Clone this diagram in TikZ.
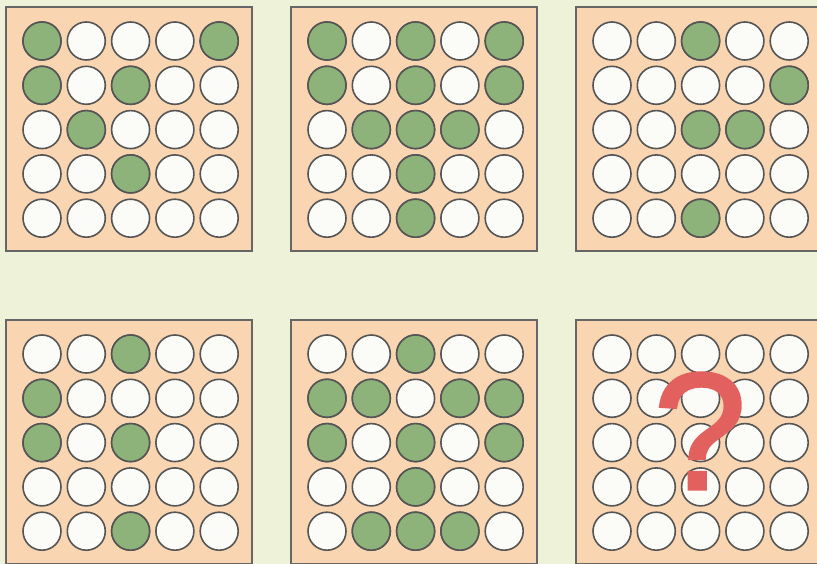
\documentclass[tikz,border=0pt]{standalone}
\usepackage{fontspec}
\setmainfont{Liberation Sans}
\newfontfamily\askfont[FakeBold=2]{Liberation Sans}
\usepackage{tikz}

\definecolor{bgcol}{HTML}{EDF2D9}
\definecolor{boxcol}{HTML}{F9D5B1}
\definecolor{greencol}{HTML}{8DB37A}
\definecolor{dotcol}{HTML}{FBFBF7}
\definecolor{rimcol}{HTML}{555555}
\definecolor{askcol}{HTML}{E2605E}

\tikzset{
  panel/.style={fill=boxcol, draw=rimcol!90, line width=1.4pt},
  dot/.style={fill=dotcol, draw=rimcol, line width=1.6pt},
  greendot/.style={fill=greencol, draw=rimcol, line width=1.6pt}
}

\begin{document}
\begin{tikzpicture}[x=1pt, y=-1pt]
  \useasboundingbox (0, 0) rectangle (817, 564);
  \clip (0, 0) rectangle (817, 564);
  \fill[bgcol] (0, 0) rectangle (817, 564);
  % six panels of 5x5 dots
  \foreach \p in {1,...,6} {
    \pgfmathsetmacro\px{6+285*mod(\p-1,3)}
    \pgfmathsetmacro\py{7+313*floor((\p-1)/3)}
    \draw[panel] (\px, \py) rectangle ++(246, 244);
    \foreach \r in {1,...,5} {
      \foreach \c in {1,...,5} {
        \draw[dot] (\px+36+44.3*\c-44.3, \py+34+44.3*\r-44.3) circle (19);
      }
    }
  }
  % green dots: panel/row/column
  \foreach \p/\r/\c in {1/1/1, 1/1/5, 1/2/1, 1/2/3, 1/3/2, 1/4/3,
      2/1/1, 2/1/3, 2/1/5, 2/2/1, 2/2/3, 2/2/5, 2/3/2, 2/3/3, 2/3/4, 2/4/3, 2/5/3,
      3/1/3, 3/2/5, 3/3/3, 3/3/4, 3/5/3,
      4/1/3, 4/2/1, 4/3/1, 4/3/3, 4/5/3,
      5/1/3, 5/2/1, 5/2/2, 5/2/4, 5/2/5, 5/3/1, 5/3/3, 5/3/5, 5/4/3, 5/5/2, 5/5/3, 5/5/4} {
    \pgfmathsetmacro\px{6+285*mod(\p-1,3)}
    \pgfmathsetmacro\py{7+313*floor((\p-1)/3)}
    \draw[greendot] (\px+36+44.3*\c-44.3, \py+34+44.3*\r-44.3) circle (19);
  }
  \node[inner sep=0, text=askcol, font=\askfont\fontsize{166}{166}\selectfont] (ask) at (700, 431) {?};
\end{tikzpicture}
\end{document}
